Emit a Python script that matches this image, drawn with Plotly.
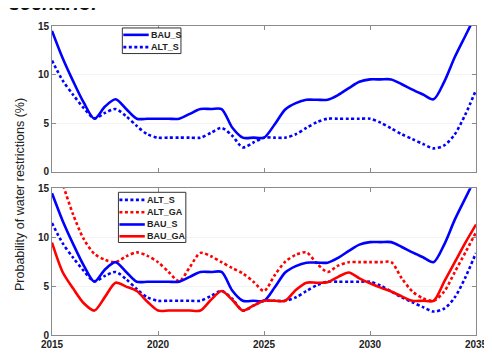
import plotly.graph_objects as go

# Half-year sampling (2015.0, 2015.5, ..., 2035.0)
years = [2015 + 0.5 * i for i in range(41)]

bau_s = [14.5, 11.7, 9.3, 7.1, 5.45, 6.7, 7.45, 6.45, 5.45, 5.45,
         5.45, 5.45, 5.45, 5.95, 6.45, 6.45, 6.45, 4.55, 3.5, 3.5,
         3.5, 4.85, 6.4, 7.05, 7.4, 7.4, 7.4, 7.9, 8.6, 9.25,
         9.5, 9.5, 9.5, 9.0, 8.45, 7.95, 7.45, 9.25, 11.8, 14.0,
         16.2]
alt_s = [11.45, 9.4, 7.9, 6.55, 5.5, 6.05, 6.45, 5.7, 4.7, 3.85,
         3.5, 3.5, 3.5, 3.5, 3.5, 4.0, 4.5, 3.7, 2.5, 3.0,
         3.5, 3.5, 3.5, 3.85, 4.5, 5.1, 5.45, 5.45, 5.45, 5.45,
         5.45, 5.05, 4.45, 3.85, 3.35, 2.85, 2.4, 2.7, 3.85, 5.9,
         8.4]
alt_ga = [19.0, 15.5, 12.3, 9.8, 8.3, 7.7, 7.45, 8.05, 8.45, 8.1,
          7.45, 6.45, 5.5, 6.95, 8.4, 8.05, 7.45, 6.85, 6.3, 5.45,
          4.5, 6.1, 7.5, 8.2, 8.45, 7.3, 6.45, 7.1, 7.45, 7.45,
          7.45, 7.45, 7.45, 5.8, 4.45, 3.75, 3.5, 4.45, 6.45, 8.45,
          10.5]
bau_ga = [9.45, 6.45, 4.75, 3.25, 2.5, 3.9, 5.35, 4.95, 4.5, 3.4,
          2.5, 2.5, 2.5, 2.5, 2.5, 3.6, 4.5, 3.6, 2.5, 3.0,
          3.5, 3.5, 3.5, 4.6, 5.35, 5.35, 5.4, 5.95, 6.4, 5.8,
          5.3, 4.85, 4.45, 3.95, 3.5, 3.5, 3.5, 5.45, 7.45, 9.45,
          11.3]

x_ticks = [2015, 2020, 2025, 2030, 2035]
y_ticks = [0, 5, 10, 15]

BLUE = "#0000ff"
RED = "#ff0000"
DOT = "3px,2.5px"
W, H = 492, 354
ml, mr, mt, mb = 44, 14, 15, 25
ph = H - mt - mb
pw = W - ml - mr


def py(pix):
    return 1 - (pix - mt) / ph


def px(pix):
    return (pix - ml) / pw


fig = go.Figure()


def add(x, y, name, color, dash, xa, ya):
    fig.add_trace(go.Scatter(
        x=x, y=y, name=name, mode="lines", showlegend=False,
        line=dict(color=color, width=2.6, dash=dash, shape="spline", smoothing=0.8),
        xaxis=xa, yaxis=ya, cliponaxis=True))


add(years, bau_s, "BAU_S", BLUE, "solid", "x", "y")
add(years, alt_s, "ALT_S", BLUE, DOT, "x", "y")
add(years, alt_s, "ALT_S", BLUE, DOT, "x2", "y2")
add(years, alt_ga, "ALT_GA", RED, DOT, "x2", "y2")
add(years, bau_s, "BAU_S", BLUE, "solid", "x2", "y2")
add(years, bau_ga, "BAU_GA", RED, "solid", "x2", "y2")

tickfont = dict(family="Liberation Sans", size=10, color="#222222", weight="bold")
axcommon = dict(showline=True, linecolor="#8a8a8a", linewidth=1, mirror="ticks",
                ticks="inside", ticklen=4, tickcolor="#8a8a8a", zeroline=False,
                tickfont=tickfont)

top_dom = [py(163), 1]
bot_dom = [0, py(180)]

shapes = []
annotations = []
legfont = dict(family="Liberation Sans", size=9, color="#222222", weight="bold")


def legend_box(x0, y0, x1, y1, entries, lx0, lx1, tx):
    shapes.append(dict(type="rect", xref="paper", yref="paper",
                       x0=px(x0), x1=px(x1), y0=py(y1), y1=py(y0),
                       fillcolor="white", line=dict(color="#333333", width=1), layer="above"))
    for (name, color, dash, yy) in entries:
        shapes.append(dict(type="line", xref="paper", yref="paper",
                           x0=px(lx0), x1=px(lx1), y0=py(yy), y1=py(yy),
                           line=dict(color=color, width=2.6, dash=dash), layer="above"))
        annotations.append(dict(text=name, xref="paper", yref="paper", x=px(tx), y=py(yy),
                                xanchor="left", yanchor="middle", showarrow=False, font=legfont))


legend_box(116, 17, 176, 43,
           [("BAU_S", BLUE, "solid", 24), ("ALT_S", BLUE, DOT, 36.5)],
           117, 143, 143)
legend_box(112, 184, 181, 235,
           [("ALT_S", BLUE, DOT, 191.7), ("ALT_GA", RED, DOT, 204.3),
            ("BAU_S", BLUE, "solid", 216.7), ("BAU_GA", RED, "solid", 228.7)],
           113, 139, 139)

annotations += [
    dict(text="Probability of water restrictions (%)", textangle=-90,
         xref="paper", yref="paper", x=px(12), y=py(186), xanchor="center", yanchor="middle",
         showarrow=False, font=dict(family="Liberation Sans", size=12.5, color="#222222")),
    dict(text="Years", xref="paper", yref="paper", x=px(261), y=py(347),
         xanchor="center", yanchor="top", showarrow=False,
         font=dict(family="Liberation Sans", size=12, color="#222222", weight="bold")),
    dict(text="scenario.", xref="paper", yref="paper", x=px(-2), y=py(5),
         xanchor="left", yanchor="bottom", showarrow=False,
         font=dict(family="Liberation Sans", size=20, color="#111111", weight="bold", style="italic")),
]

fig.update_layout(
    width=W, height=H,
    margin=dict(l=ml, r=mr, t=mt, b=mb),
    paper_bgcolor="white", plot_bgcolor="white",
    showlegend=False,
    xaxis=dict(domain=[0, 1], range=[2015, 2035], tickvals=x_ticks, showticklabels=False,
               anchor="y", showgrid=False, **axcommon),
    yaxis=dict(domain=top_dom, range=[0, 15], tickvals=y_ticks, anchor="x",
               showgrid=True, gridcolor="#f3f3f3", **axcommon),
    xaxis2=dict(domain=[0, 1], range=[2015, 2035], tickvals=x_ticks, anchor="y2",
                showgrid=False, **axcommon),
    yaxis2=dict(domain=bot_dom, range=[0, 15], tickvals=y_ticks, anchor="x2",
                showgrid=True, gridcolor="#f3f3f3", **axcommon),
    shapes=shapes,
    annotations=annotations,
)

fig.write_html("out.html")
